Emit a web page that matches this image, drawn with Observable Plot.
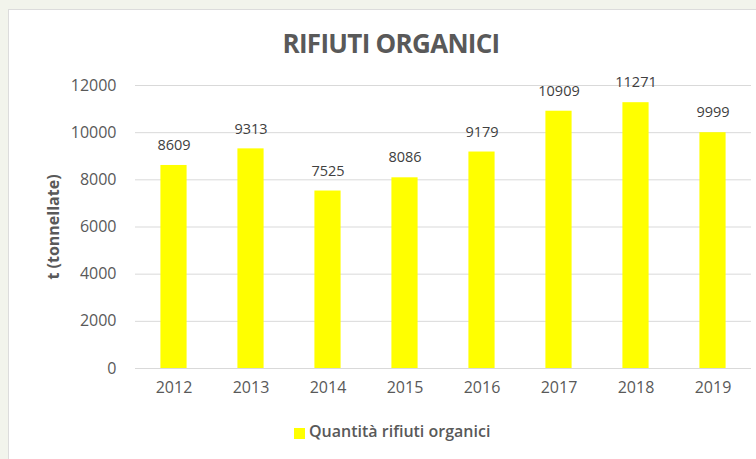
<!DOCTYPE html>
<html><head><meta charset="utf-8">
<script src="https://cdn.jsdelivr.net/npm/d3@7"></script>
<script src="https://cdn.jsdelivr.net/npm/@observablehq/plot@0.6"></script>
<style>
body{margin:0;background:#f2f4ec;width:756px;height:459px;overflow:hidden;font-family:"Open Sans",sans-serif;}
#panel{position:absolute;left:8px;top:9px;width:760px;height:460px;background:#fff;border:1px solid #dcdcdc;}
#title{position:absolute;left:0;top:25px;width:782px;text-align:center;font-size:26px;font-weight:bold;color:#595959;letter-spacing:-0.7px;}
#chart{position:absolute;left:0;top:70px;}
#legend{position:absolute;left:294px;top:420px;font-size:16px;font-weight:600;color:#595959;display:flex;align-items:center;letter-spacing:0px;}
#legend span.sw{display:inline-block;width:11px;height:11px;background:#ffff00;margin-right:4px;margin-top:5px;}
</style></head><body>
<div id="panel"></div>
<div id="title">RIFIUTI ORGANICI</div>
<div id="chart"></div>
<div id="legend"><span class="sw"></span>Quantità rifiuti organici</div>
<script>
const years = ["2012","2013","2014","2015","2016","2017","2018","2019"];
const values = [8609, 9313, 7525, 8086, 9179, 10909, 11271, 9999];
const yTicks = [0, 2000, 4000, 6000, 8000, 10000, 12000];
const data = years.map((y, i) => ({year: y, value: values[i]}));

const chart = Plot.plot({
  width: 756,
  height: 330,
  marginLeft: 135,
  marginRight: 5,
  marginTop: 15,
  marginBottom: 32,
  style: {fontFamily: "Open Sans, sans-serif", fontSize: "12px", color: "#595959", background: "transparent"},
  x: {domain: years, paddingInner: 0.66, paddingOuter: 0.33, round: false, label: null},
  y: {domain: [0, 12000], ticks: yTicks, label: null},
  marks: [
    Plot.gridY(yTicks, {stroke: "#d9d9d9", strokeOpacity: 1}),
    Plot.axisY(yTicks, {tickSize: 0, tickPadding: 19, fontSize: 16, fill: "#595959", label: null, tickFormat: d => String(d)}),
    Plot.text(["t (tonnellate)"], {frameAnchor: "left", textAnchor: "middle", dx: -82, rotate: -90, fontWeight: "bold", fontSize: 16, fill: "#595959"}),
    Plot.axisX({tickSize: 0, tickPadding: 13, fontSize: 16, fill: "#595959", label: null}),
    Plot.barY(data, {x: "year", y: "value", fill: "#ffff00"}),
    Plot.text(data, {x: "year", y: "value", text: d => String(d.value), dy: -20, fontSize: 14.5, fill: "#404040"})
  ]
});
document.getElementById("chart").appendChild(chart);
</script>
</body></html>
